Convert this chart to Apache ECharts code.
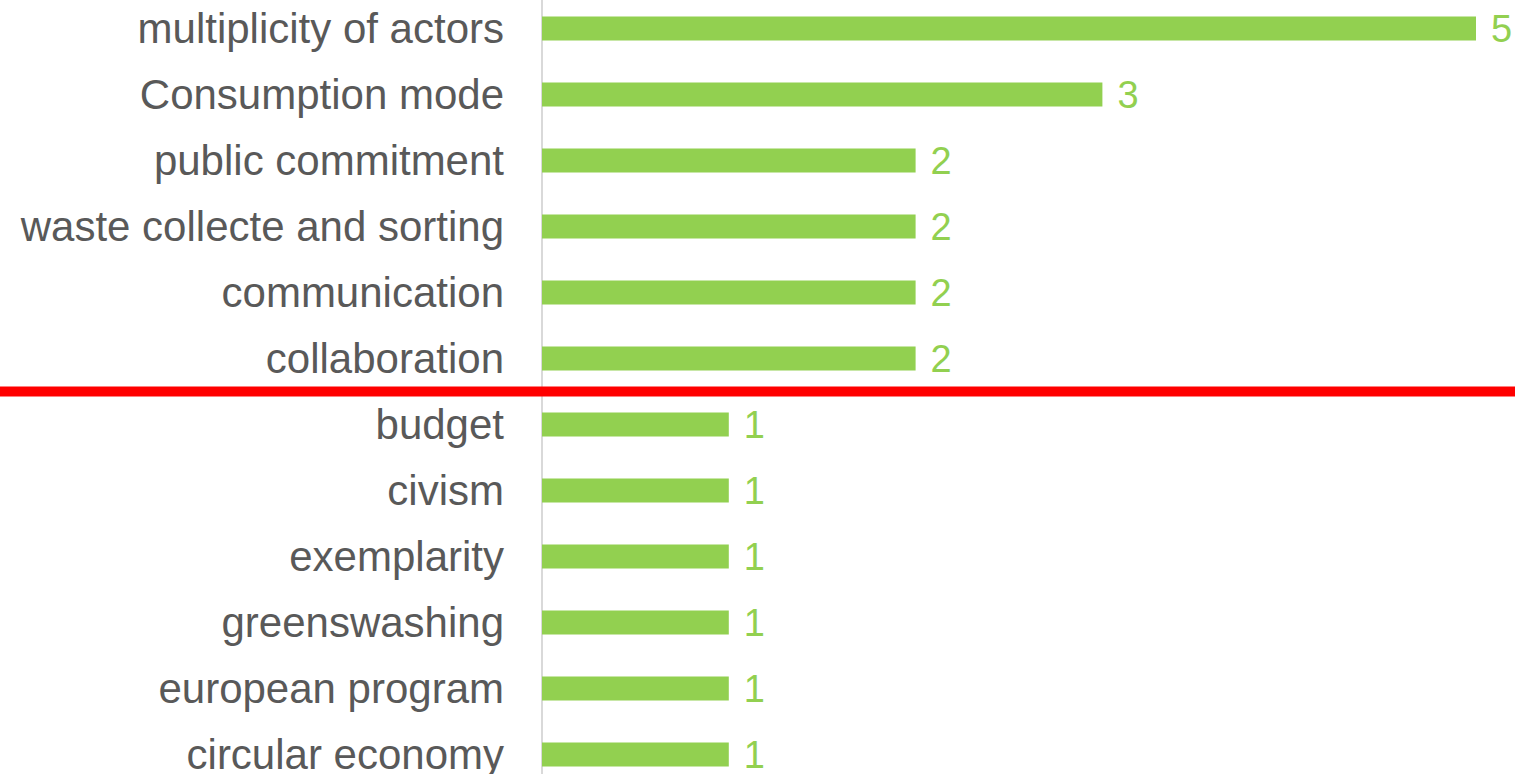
<!DOCTYPE html>
<html>
<head>
<meta charset="utf-8">
<script src="https://cdn.jsdelivr.net/npm/echarts@6/dist/echarts.min.js"></script>
<style>
  html, body { margin: 0; padding: 0; background: #fff; }
  #chart { width: 1515px; height: 774px; }
</style>
</head>
<body>
<div id="chart"></div>
<script>
var categories = [
  'multiplicity of actors', 'Consumption mode', 'public commitment',
  'waste collecte and sorting', 'communication', 'collaboration',
  'budget', 'civism', 'exemplarity', 'greenswashing',
  'european program', 'circular economy'
];
var counts = [5, 3, 2, 2, 2, 2, 1, 1, 1, 1, 1, 1];
// the red divider sits between these two rows
var dividerAfter = 'collaboration';
var dividerBefore = 'budget';

var green = '#92D050';
var ink = '#595959';
var rule = '#D9D9D9';
var font = '"Liberation Sans", Arial, sans-serif';

var chart = echarts.init(document.getElementById('chart'), null, { renderer: 'svg' });
chart.setOption({
  animation: false,
  grid: { left: 542, right: 39, top: -4.5, height: 792, containLabel: false, outerBoundsMode: 'none' },
  xAxis: {
    type: 'value',
    min: 0,
    max: 5,
    show: false
  },
  yAxis: {
    type: 'category',
    inverse: true,
    data: categories,
    axisLine: { lineStyle: { color: rule, width: 2 } },
    axisTick: { show: false },
    axisLabel: { color: ink, fontSize: 42, fontFamily: font, margin: 38, padding: [0, 0, 4, 0] }
  },
  series: [{
    type: 'bar',
    data: counts,
    barWidth: 24,
    itemStyle: { color: green },
    label: {
      show: true,
      position: 'right',
      distance: 15,
      color: green,
      fontSize: 38,
      fontFamily: font
    }
  }]
});

var yA = chart.convertToPixel({ yAxisIndex: 0 }, dividerAfter);
var yB = chart.convertToPixel({ yAxisIndex: 0 }, dividerBefore);
var yMid = (yA + yB) / 2;
chart.setOption({
  graphic: [{
    type: 'line',
    shape: { x1: 0, y1: yMid, x2: 1515, y2: yMid },
    style: { stroke: '#FF0000', lineWidth: 10 },
    z: 100
  }]
});
</script>
</body>
</html>
